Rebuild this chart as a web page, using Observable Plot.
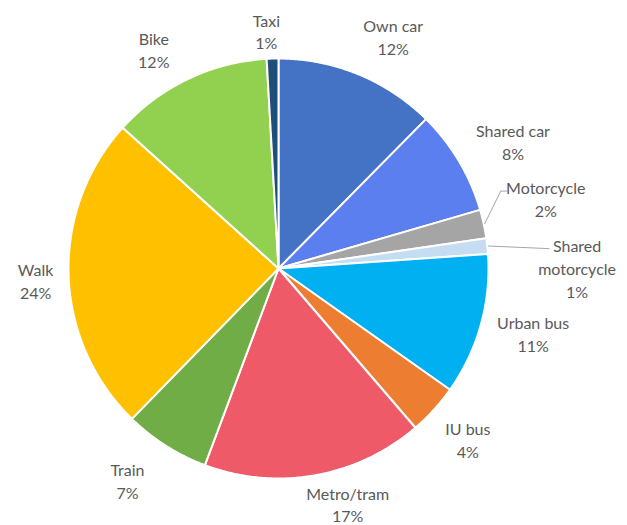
<!DOCTYPE html>
<html>
<head>
<meta charset="utf-8">
<script src="https://cdn.jsdelivr.net/npm/d3@7"></script>
<script src="https://cdn.jsdelivr.net/npm/@observablehq/plot@0.6"></script>
<style>
  html, body { margin: 0; padding: 0; background: #fff; }
  #chart svg { display: block; font-family: Lato, "Open Sans", sans-serif; }
</style>
</head>
<body>
<div id="chart"></div>
<script>
// ---- data (clockwise from 12 o'clock) ----
const categories = ["Own car", "Shared car", "Motorcycle", "Shared motorcycle", "Urban bus", "IU bus", "Metro/tram", "Train", "Walk", "Bike", "Taxi"];
const shares = [12.4, 8.1, 2.2, 1.2, 10.9, 3.9, 17.0, 6.6, 24.4, 12.4, 0.9];
const shareLabels = ["12%", "8%", "2%", "1%", "11%", "4%", "17%", "7%", "24%", "12%", "1%"];
const labelLines = ["Own car", "Shared car", "Motorcycle", "Shared\nmotorcycle", "Urban bus", "IU bus", "Metro/tram", "Train", "Walk", "Bike", "Taxi"];
const colors = ["#4472C4", "#5B7FEE", "#A5A5A5", "#C5DDF2", "#00B0F0", "#ED7D31", "#EE5A68", "#70AD47", "#FFC000", "#92D050", "#1F4E79"];

// ---- layout ----
const W = 627, H = 525;
const cx = 278, cy = 268, R = 210, RL = 252;
const nudge = {
  "Own car": [19, 1], "Shared car": [18, 2], "Motorcycle": [21, -17], "Shared motorcycle": [48, 26],
  "Urban bus": [12, -3], "IU bus": [3, 1], "Metro/tram": [25, -13], "Train": [-16, -1],
  "Walk": [9, 4], "Bike": [-16, 8], "Taxi": [-5, 14]
};
// leader lines: [end offset from label centre, elbow offset]
const leaders = {
  "Motorcycle": {elbow: [-45, -7], end: [-39, -7]},
  "Shared motorcycle": {elbow: null, end: [-28, -19]}
};

const pt = (deg, r) => {
  const a = deg * Math.PI / 180;
  return [cx + r * Math.sin(a), cy - r * Math.cos(a)];
};

let acc = 0;
const slices = categories.map((cat, i) => {
  const a0 = acc * 3.6; acc += shares[i]; const a1 = acc * 3.6;
  return {cat, a0, a1, mid: (a0 + a1) / 2, i};
});

const slicePts = [];
for (const s of slices) {
  slicePts.push({cat: s.cat, x: cx, y: cy});
  const n = Math.max(2, Math.ceil((s.a1 - s.a0) / 0.5));
  for (let k = 0; k <= n; k++) {
    const [x, y] = pt(s.a0 + (s.a1 - s.a0) * k / n, R);
    slicePts.push({cat: s.cat, x, y});
  }
  slicePts.push({cat: s.cat, x: cx, y: cy});
}

const labels = slices.map(s => {
  const [x, y] = pt(s.mid, RL);
  const [dx, dy] = nudge[s.cat];
  return {cat: s.cat, x: x + dx, y: y + dy, text: labelLines[s.i] + "\n" + shareLabels[s.i], mid: s.mid};
});

const leaderPts = [];
for (const l of labels) {
  const ld = leaders[l.cat];
  if (!ld) continue;
  const [sx, sy] = pt(l.mid, R + 1);
  leaderPts.push({cat: l.cat, x: sx, y: sy});
  if (ld.elbow) leaderPts.push({cat: l.cat, x: l.x + ld.elbow[0], y: l.y + ld.elbow[1]});
  leaderPts.push({cat: l.cat, x: l.x + ld.end[0], y: l.y + ld.end[1]});
}

const chart = Plot.plot({
  width: W, height: H, margin: 0,
  x: {domain: [0, W], axis: null},
  y: {domain: [0, H], reverse: true, axis: null},
  color: {domain: categories, range: colors},
  marks: [
    Plot.line(slicePts, {x: "x", y: "y", z: "cat", fill: "cat", stroke: "white", strokeWidth: 2, strokeLinejoin: "round", curve: "linear"}),
    Plot.line(leaderPts, {x: "x", y: "y", z: "cat", stroke: "#A6A6A6", strokeWidth: 1}),
    Plot.text(labels, {x: "x", y: "y", text: "text", fill: "#595959", fontSize: 16, lineHeight: 1.42, fontFamily: "Lato"})
  ]
});
document.getElementById("chart").appendChild(chart);
</script>
</body>
</html>
